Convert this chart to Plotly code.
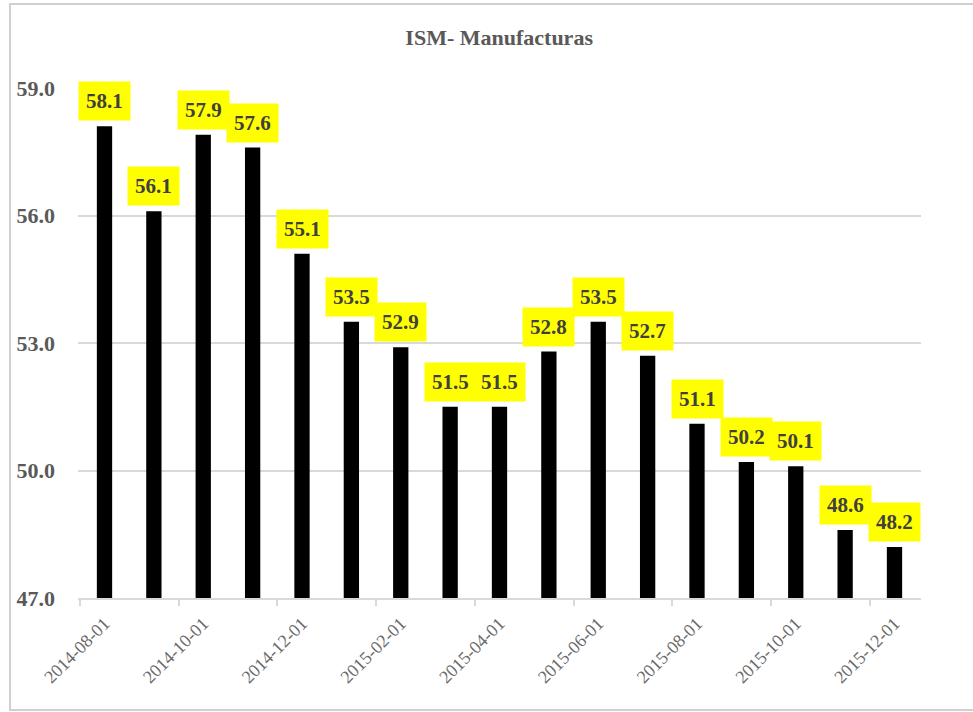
import plotly.graph_objects as go

dates = ["2014-08-01", "2014-09-01", "2014-10-01", "2014-11-01", "2014-12-01",
         "2015-01-01", "2015-02-01", "2015-03-01", "2015-04-01", "2015-05-01",
         "2015-06-01", "2015-07-01", "2015-08-01", "2015-09-01", "2015-10-01",
         "2015-11-01", "2015-12-01"]
values = [58.1, 56.1, 57.9, 57.6, 55.1, 53.5, 52.9, 51.5, 51.5, 52.8,
          53.5, 52.7, 51.1, 50.2, 50.1, 48.6, 48.2]
y_ticks = [47.0, 50.0, 53.0, 56.0, 59.0]
title_text = "ISM- Manufacturas"

FONT = "'Liberation Serif', 'Times New Roman', serif"
GRAY = "#595959"

fig = go.Figure()
fig.add_trace(go.Bar(
    x=dates, y=values, marker=dict(color="black", line=dict(width=0)),
    width=0.31, showlegend=False, hoverinfo="skip",
))

for d, v in zip(dates, values):
    fig.add_annotation(
        x=d, y=v, xref="x", yref="y", text=f"<b>{v:.1f}</b>",
        showarrow=False, yanchor="bottom", yshift=5,
        bgcolor="#FFFF00", borderpad=7,
        font=dict(family=FONT, size=21, color="#404040"),
    )

fig.update_layout(
    width=973, height=712,
    margin=dict(l=78, r=52, t=88, b=114),
    paper_bgcolor="white", plot_bgcolor="white",
    title=dict(text=f"<b>{title_text}</b>", x=0.513, xanchor="center", y=0.947, yanchor="middle",
               font=dict(family=FONT, size=22, color=GRAY)),
    font=dict(family=FONT, color=GRAY),
    xaxis=dict(
        type="category", tickmode="linear", tick0=0, dtick=2,
        tickangle=-45, tickson="boundaries",
        ticks="outside", ticklen=6, tickcolor="#d9d9d9", tickwidth=2,
        showline=True, linecolor="#d9d9d9", linewidth=2,
        showgrid=False, ticklabelstandoff=6,
        tickfont=dict(family=FONT, size=18, color="#6a6a6a"),
    ),
    yaxis=dict(
        range=[47, 59], tickvals=y_ticks,
        ticktext=[f"<b>{t:.1f}</b>" for t in y_ticks],
        showgrid=True, gridcolor="#d9d9d9", gridwidth=2,
        zeroline=False, showline=False, ticks="",
        ticklabelstandoff=22,
        tickfont=dict(family=FONT, size=22, color=GRAY),
    ),
    shapes=[dict(type="rect", xref="paper", yref="paper",
                 x0=-0.0807, x1=1.07, y0=-0.2196, y1=1.1647,
                 line=dict(color="#d0d0d0", width=2), fillcolor="rgba(0,0,0,0)",
                 layer="below")],
)

fig.write_html("out.html")
